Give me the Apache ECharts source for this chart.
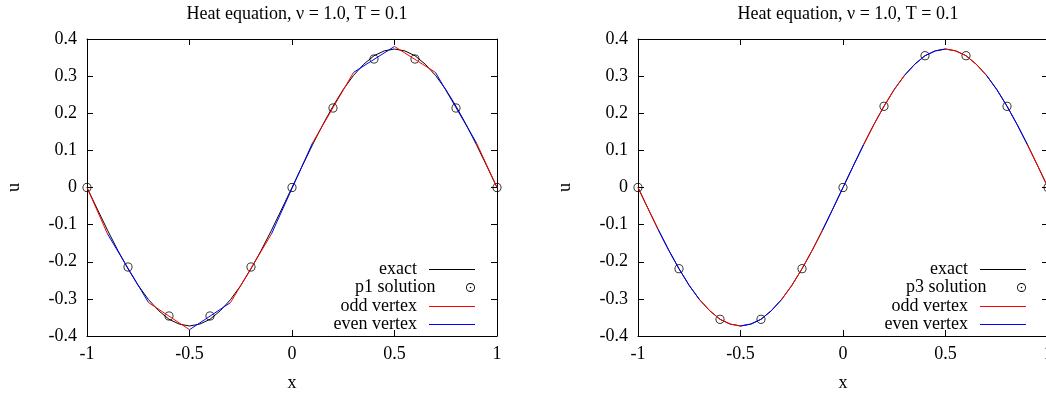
<!DOCTYPE html>
<html>
<head>
<meta charset="utf-8">
<script src="https://cdn.jsdelivr.net/npm/echarts@6/dist/echarts.min.js"></script>
<style>
  html, body { margin: 0; padding: 0; background: #fff; }
  #chart { width: 1046px; height: 396px; }
</style>
</head>
<body>
<div id="chart"></div>
<script>
// exact solution, sampled every 0.05
var exactX = [-1, -0.95, -0.9, -0.85, -0.8, -0.75, -0.7, -0.65, -0.6, -0.55, -0.5,
  -0.45, -0.4, -0.35, -0.3, -0.25, -0.2, -0.15, -0.1, -0.05, 0,
  0.05, 0.1, 0.15, 0.2, 0.25, 0.3, 0.35, 0.4, 0.45, 0.5,
  0.55, 0.6, 0.65, 0.7, 0.75, 0.8, 0.85, 0.9, 0.95, 1];
var exactU = [0, -0.058, -0.115, -0.169, -0.219, -0.264, -0.302, -0.332, -0.355, -0.368, -0.373,
  -0.368, -0.355, -0.332, -0.302, -0.264, -0.219, -0.169, -0.115, -0.058, 0,
  0.058, 0.115, 0.169, 0.219, 0.264, 0.302, 0.332, 0.355, 0.368, 0.373,
  0.368, 0.355, 0.332, 0.302, 0.264, 0.219, 0.169, 0.115, 0.058, 0];

// vertex values
var vertexX = [-1, -0.8, -0.6, -0.4, -0.2, 0, 0.2, 0.4, 0.6, 0.8, 1];
var p1U = [0, -0.214, -0.346, -0.346, -0.214, 0, 0.214, 0.346, 0.346, 0.214, 0];
var p3U = [0, -0.219, -0.355, -0.355, -0.219, 0, 0.219, 0.355, 0.355, 0.219, 0];

// control volume edges around each vertex, and p1 reconstruction at both ends
var cellEdges = [-1, -0.9, -0.7, -0.5, -0.3, -0.1, 0.1, 0.3, 0.5, 0.7, 0.9, 1];
var p1Left  = [0, -0.125, -0.31, -0.383, -0.31, -0.125, 0.12, 0.31, 0.38, 0.31, 0.12];
var p1Right = [-0.125, -0.31, -0.383, -0.31, -0.125, 0.12, 0.31, 0.38, 0.31, 0.12, 0];

// p3 reconstruction lies on top of the exact curve
var p3CurveU = exactU;

var xTicks = { min: -1, max: 1, interval: 0.5 };
var yTicks = { min: -0.4, max: 0.4, interval: 0.1 };

var FONT = 'Liberation Serif';
var ODD = '#ff0000', EVEN = '#0000ff';

// open circle (ring), with a centre dot for the key
var ringPath = 'path://M0,10 A10,10 0 1,1 20,10 A10,10 0 1,1 0,10 Z ' +
  'M1.8,10 A8.2,8.2 0 1,0 18.2,10 A8.2,8.2 0 1,0 1.8,10 Z';
var ringDotPath = 'path://M0,10 A10,10 0 1,1 20,10 A10,10 0 1,1 0,10 Z ' +
  'M2,10 A8,8 0 1,0 18,10 A8,8 0 1,0 2,10 Z ' +
  'M8.3,10 A1.7,1.7 0 1,1 11.7,10 A1.7,1.7 0 1,1 8.3,10 Z';
var linePath = 'path://M0,0 H46 V1 H0 Z';

function zip(xs, ys) {
  return xs.map(function (x, i) { return [x, ys[i]]; });
}

var grids = [
  { left: 87, top: 39, width: 410, height: 297, outerBoundsMode: 'none', containLabel: false },
  { left: 638, top: 39, width: 410, height: 297, outerBoundsMode: 'none', containLabel: false }
];

var xAxes = [], yAxes = [];
grids.forEach(function (g, gi) {
  ['bottom', 'top'].forEach(function (pos) {
    xAxes.push({
      type: 'value', gridIndex: gi, position: pos,
      min: xTicks.min, max: xTicks.max, interval: xTicks.interval,
      name: pos === 'bottom' ? 'x' : '', nameLocation: 'middle', nameGap: 38,
      nameTextStyle: { fontFamily: FONT, fontSize: 18, color: '#000' },
      axisLine: { show: true, onZero: false, lineStyle: { color: '#000', width: 1 } },
      axisTick: { show: true, inside: true, length: 6, lineStyle: { color: '#000' } },
      axisLabel: { show: pos === 'bottom', margin: 9, fontFamily: FONT, fontSize: 18, color: '#000' },
      splitLine: { show: false }
    });
  });
  ['left', 'right'].forEach(function (pos) {
    yAxes.push({
      type: 'value', gridIndex: gi, position: pos,
      min: yTicks.min, max: yTicks.max, interval: yTicks.interval,
      name: pos === 'left' ? 'u' : '', nameLocation: 'middle', nameGap: 64, nameRotate: 90,
      nameTextStyle: { fontFamily: FONT, fontSize: 18, color: '#000' },
      axisLine: { show: true, onZero: false, lineStyle: { color: '#000', width: 1 } },
      axisTick: { show: true, inside: true, length: 6, lineStyle: { color: '#000' } },
      axisLabel: { show: pos === 'left', margin: 10, fontFamily: FONT, fontSize: 18, color: '#000' },
      splitLine: { show: false }
    });
  });
});

function lineSeries(name, data, color, gi) {
  return {
    name: name, type: 'line', data: data,
    xAxisIndex: gi * 2, yAxisIndex: gi * 2,
    symbol: 'none', lineStyle: { color: color, width: 1 }, itemStyle: { color: color },
    silent: true, animation: false
  };
}

function dotSeries(name, ys, gi) {
  return {
    name: name, type: 'scatter', data: zip(vertexX, ys),
    xAxisIndex: gi * 2, yAxisIndex: gi * 2,
    symbol: ringPath, symbolSize: 9, symbolKeepAspect: true,
    itemStyle: { color: '#000', opacity: 1 },
    silent: true, animation: false, z: 3
  };
}

var series = [];
// left panel: p1
series.push(lineSeries('exact', zip(exactX, exactU), '#000', 0));
series.push(dotSeries('p1 solution', p1U, 0));
for (var i = 0; i < cellEdges.length - 1; i++) {
  var s = lineSeries(i % 2 === 0 ? 'odd vertex' : 'even vertex',
    [[cellEdges[i], p1Left[i]], [cellEdges[i + 1], p1Right[i]]],
    i % 2 === 0 ? ODD : EVEN, 0);
  s.z = 4;
  series.push(s);
}
// right panel: p3
series.push(lineSeries('exact', zip(exactX, exactU), '#000', 1));
series.push(dotSeries('p3 solution', p3U, 1));
for (var j = 0; j < cellEdges.length - 1; j++) {
  var seg = [];
  exactX.forEach(function (x, k) {
    if (x >= cellEdges[j] - 1e-9 && x <= cellEdges[j + 1] + 1e-9) seg.push([x, p3CurveU[k]]);
  });
  var s3 = lineSeries(j % 2 === 0 ? 'odd vertex' : 'even vertex', seg, j % 2 === 0 ? ODD : EVEN, 1);
  s3.z = 4;
  series.push(s3);
}

// one legend per key row so the samples line up on the right
var rowTops = [260.5, 278.5, 297.5, 315.5];
function legendRow(name, right, top, icon) {
  return {
    data: [{ name: name, icon: icon }], right: right, top: top, padding: 0,
    itemWidth: 46, itemHeight: 9, align: 'right', selectedMode: false,
    textStyle: { fontFamily: FONT, fontSize: 18, color: '#000', lineHeight: 17, padding: [0, 7, 0, 0] }
  };
}
var legends = [];
[[571, 'p1 solution'], [20, 'p3 solution']].forEach(function (p) {
  legends.push(legendRow('exact', p[0], rowTops[0], linePath));
  legends.push(legendRow(p[1], p[0], rowTops[1], ringDotPath));
  legends.push(legendRow('odd vertex', p[0], rowTops[2], linePath));
  legends.push(legendRow('even vertex', p[0], rowTops[3], linePath));
});

var titleText = 'Heat equation, \u03bd = 1.0, T = 0.1';
var option = {
  backgroundColor: '#fff',
  animation: false,
  title: [
    { text: titleText, left: 292, top: 0, textAlign: 'center',
      textStyle: { fontFamily: FONT, fontSize: 18, fontWeight: 'normal', color: '#000' } },
    { text: titleText, left: 843, top: 0, textAlign: 'center',
      textStyle: { fontFamily: FONT, fontSize: 18, fontWeight: 'normal', color: '#000' } }
  ],
  legend: legends,
  grid: grids,
  xAxis: xAxes,
  yAxis: yAxes,
  series: series
};

var chart = echarts.init(document.getElementById('chart'));
chart.setOption(option);
</script>
</body>
</html>
